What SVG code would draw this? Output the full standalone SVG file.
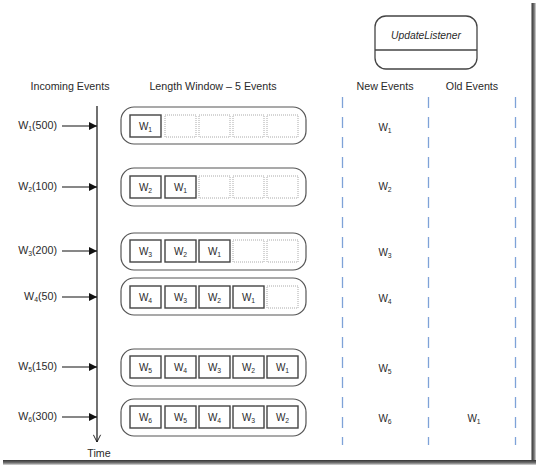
<svg xmlns="http://www.w3.org/2000/svg" width="536" height="465" viewBox="0 0 536 465">
  <defs>
    <style>
      text { font-family: "Liberation Sans", Arial, sans-serif; fill: #2a2a2a; }
      .hdr { font-size: 10.7px; text-anchor: middle; }
      .lbl { font-size: 10.7px; text-anchor: end; }
      .cell-t { font-size: 10px; text-anchor: middle; }
      .sub { font-size: 6.8px; }
      .win { fill: #fff; stroke: #555; stroke-width: 1.2; }
      .full { fill: #fff; stroke: #444; stroke-width: 1.4; }
      .empty { fill: #fff; stroke: #aaa; stroke-width: 1; stroke-dasharray: 1 1; }
      .arrow { stroke: #111; stroke-width: 1.2; fill: none; }
      .lane { stroke: #7ea2d8; stroke-width: 1.3; stroke-dasharray: 11 9; }
    </style>
    <marker id="head" viewBox="0 0 10 10" refX="10" refY="5" markerWidth="10" markerHeight="8" markerUnits="userSpaceOnUse" orient="auto">
      <path d="M0,0 L10,5 L0,10 z" fill="#111"/>
    </marker>
    <marker id="open" viewBox="0 0 10 10" refX="9" refY="5" markerWidth="9" markerHeight="9" markerUnits="userSpaceOnUse" orient="auto">
      <path d="M1,1 L9,5 L1,9" fill="none" stroke="#111" stroke-width="1"/>
    </marker>
    <linearGradient id="shR" x1="0" y1="0" x2="1" y2="0">
      <stop offset="0" stop-color="#333"/>
      <stop offset="0.6" stop-color="#777"/>
      <stop offset="1" stop-color="#ddd"/>
    </linearGradient>
    <linearGradient id="shB" x1="0" y1="0" x2="0" y2="1">
      <stop offset="0" stop-color="#333"/>
      <stop offset="0.6" stop-color="#777"/>
      <stop offset="1" stop-color="#ddd"/>
    </linearGradient>
  </defs>

  <rect width="536" height="465" fill="#fff"/>
  <!-- frame shadow -->
  <rect x="531.5" y="3" width="4.5" height="462" fill="url(#shR)"/>
  <rect x="3" y="460" width="533" height="5" fill="url(#shB)"/>

  <!-- column headers -->
  <text class="hdr" x="70" y="90">Incoming Events</text>
  <text class="hdr" x="213" y="90">Length Window – 5 Events</text>
  <text class="hdr" x="385" y="90">New Events</text>
  <text class="hdr" x="472" y="90">Old Events</text>

  <!-- listener -->
  <g id="update-listener">
    <rect x="375" y="16" width="102" height="53" rx="11" fill="#fff" stroke="#444" stroke-width="1.3"/>
    <line x1="375" y1="50" x2="477" y2="50" stroke="#444" stroke-width="1.3"/>
    <text x="426" y="39" font-size="10.3" font-style="italic" text-anchor="middle">UpdateListener</text>
  </g>

  <!-- connectors -->
  <g id="connectors">
    <line class="arrow" x1="97" y1="106" x2="97" y2="442" marker-end="url(#open)"/>
    <line class="arrow" x1="62" y1="126" x2="97" y2="126" marker-end="url(#head)"/>
    <line class="arrow" x1="62" y1="187" x2="97" y2="187" marker-end="url(#head)"/>
    <line class="arrow" x1="62" y1="251" x2="97" y2="251" marker-end="url(#head)"/>
    <line class="arrow" x1="62" y1="297" x2="97" y2="297" marker-end="url(#head)"/>
    <line class="arrow" x1="62" y1="367" x2="97" y2="367" marker-end="url(#head)"/>
    <line class="arrow" x1="62" y1="417" x2="97" y2="417" marker-end="url(#head)"/>
    <line class="lane" x1="342.5" y1="97" x2="342.5" y2="445"/>
    <line class="lane" x1="428.5" y1="97" x2="428.5" y2="445"/>
    <line class="lane" x1="515.5" y1="97" x2="515.5" y2="445"/>
  </g>
  <text class="hdr" x="99" y="457">Time</text>

  <!-- incoming event labels -->
  <g id="incoming">
    <text class="lbl" x="57" y="129">W<tspan class="sub" dy="2">1</tspan><tspan dy="-2">(500)</tspan></text>
    <text class="lbl" x="57" y="190">W<tspan class="sub" dy="2">2</tspan><tspan dy="-2">(100)</tspan></text>
    <text class="lbl" x="57" y="254">W<tspan class="sub" dy="2">3</tspan><tspan dy="-2">(200)</tspan></text>
    <text class="lbl" x="57" y="300">W<tspan class="sub" dy="2">4</tspan><tspan dy="-2">(50)</tspan></text>
    <text class="lbl" x="57" y="370">W<tspan class="sub" dy="2">5</tspan><tspan dy="-2">(150)</tspan></text>
    <text class="lbl" x="57" y="420">W<tspan class="sub" dy="2">6</tspan><tspan dy="-2">(300)</tspan></text>
  </g>

  <!-- window row 1 -->
  <g id="window-1">
    <rect class="win" x="121" y="107" width="185" height="37" rx="13"/>
    <rect class="full" x="130" y="115" width="31" height="22"/>
    <rect class="empty" x="165" y="115" width="31" height="22"/>
    <rect class="empty" x="199" y="115" width="31" height="22"/>
    <rect class="empty" x="233" y="115" width="31" height="22"/>
    <rect class="empty" x="267" y="115" width="31" height="22"/>
    <text class="cell-t" x="145.5" y="130">W<tspan class="sub" dy="1.5">1</tspan></text>
  </g>

  <!-- window row 2 -->
  <g id="window-2">
    <rect class="win" x="121" y="168" width="185" height="38" rx="13"/>
    <rect class="full" x="130" y="176" width="31" height="22"/>
    <rect class="full" x="165" y="176" width="31" height="22"/>
    <rect class="empty" x="199" y="176" width="31" height="22"/>
    <rect class="empty" x="233" y="176" width="31" height="22"/>
    <rect class="empty" x="267" y="176" width="31" height="22"/>
    <text class="cell-t" x="145.5" y="191">W<tspan class="sub" dy="1.5">2</tspan></text>
    <text class="cell-t" x="180.5" y="191">W<tspan class="sub" dy="1.5">1</tspan></text>
  </g>

  <!-- window row 3 -->
  <g id="window-3">
    <rect class="win" x="121" y="233" width="185" height="37" rx="13"/>
    <rect class="full" x="130" y="240" width="31" height="22"/>
    <rect class="full" x="165" y="240" width="31" height="22"/>
    <rect class="full" x="199" y="240" width="31" height="22"/>
    <rect class="empty" x="233" y="240" width="31" height="22"/>
    <rect class="empty" x="267" y="240" width="31" height="22"/>
    <text class="cell-t" x="145.5" y="255">W<tspan class="sub" dy="1.5">3</tspan></text>
    <text class="cell-t" x="180.5" y="255">W<tspan class="sub" dy="1.5">2</tspan></text>
    <text class="cell-t" x="214.5" y="255">W<tspan class="sub" dy="1.5">1</tspan></text>
  </g>

  <!-- window row 4 -->
  <g id="window-4">
    <rect class="win" x="121" y="278" width="185" height="37" rx="13"/>
    <rect class="full" x="130" y="286" width="31" height="22"/>
    <rect class="full" x="165" y="286" width="31" height="22"/>
    <rect class="full" x="199" y="286" width="31" height="22"/>
    <rect class="full" x="233" y="286" width="31" height="22"/>
    <rect class="empty" x="267" y="286" width="31" height="22"/>
    <text class="cell-t" x="145.5" y="301">W<tspan class="sub" dy="1.5">4</tspan></text>
    <text class="cell-t" x="180.5" y="301">W<tspan class="sub" dy="1.5">3</tspan></text>
    <text class="cell-t" x="214.5" y="301">W<tspan class="sub" dy="1.5">2</tspan></text>
    <text class="cell-t" x="248.5" y="301">W<tspan class="sub" dy="1.5">1</tspan></text>
  </g>

  <!-- window row 5 -->
  <g id="window-5">
    <rect class="win" x="121" y="349" width="185" height="37" rx="13"/>
    <rect class="full" x="130" y="356" width="31" height="22"/>
    <rect class="full" x="165" y="356" width="31" height="22"/>
    <rect class="full" x="199" y="356" width="31" height="22"/>
    <rect class="full" x="233" y="356" width="31" height="22"/>
    <rect class="full" x="267" y="356" width="31" height="22"/>
    <text class="cell-t" x="145.5" y="371">W<tspan class="sub" dy="1.5">5</tspan></text>
    <text class="cell-t" x="180.5" y="371">W<tspan class="sub" dy="1.5">4</tspan></text>
    <text class="cell-t" x="214.5" y="371">W<tspan class="sub" dy="1.5">3</tspan></text>
    <text class="cell-t" x="248.5" y="371">W<tspan class="sub" dy="1.5">2</tspan></text>
    <text class="cell-t" x="282.5" y="371">W<tspan class="sub" dy="1.5">1</tspan></text>
  </g>

  <!-- window row 6 -->
  <g id="window-6">
    <rect class="win" x="121" y="399" width="185" height="37" rx="13"/>
    <rect class="full" x="130" y="406" width="31" height="22"/>
    <rect class="full" x="165" y="406" width="31" height="22"/>
    <rect class="full" x="199" y="406" width="31" height="22"/>
    <rect class="full" x="233" y="406" width="31" height="22"/>
    <rect class="full" x="267" y="406" width="31" height="22"/>
    <text class="cell-t" x="145.5" y="421">W<tspan class="sub" dy="1.5">6</tspan></text>
    <text class="cell-t" x="180.5" y="421">W<tspan class="sub" dy="1.5">5</tspan></text>
    <text class="cell-t" x="214.5" y="421">W<tspan class="sub" dy="1.5">4</tspan></text>
    <text class="cell-t" x="248.5" y="421">W<tspan class="sub" dy="1.5">3</tspan></text>
    <text class="cell-t" x="282.5" y="421">W<tspan class="sub" dy="1.5">2</tspan></text>
  </g>

  <!-- new / old event columns -->
  <g id="new-events">
    <text class="cell-t" x="385" y="131">W<tspan class="sub" dy="1.5">1</tspan></text>
    <text class="cell-t" x="385" y="190">W<tspan class="sub" dy="1.5">2</tspan></text>
    <text class="cell-t" x="385" y="256">W<tspan class="sub" dy="1.5">3</tspan></text>
    <text class="cell-t" x="385" y="302">W<tspan class="sub" dy="1.5">4</tspan></text>
    <text class="cell-t" x="385" y="372">W<tspan class="sub" dy="1.5">5</tspan></text>
    <text class="cell-t" x="385" y="422">W<tspan class="sub" dy="1.5">6</tspan></text>
  </g>
  <g id="old-events">
    <text class="cell-t" x="474" y="422">W<tspan class="sub" dy="1.5">1</tspan></text>
  </g>
</svg>
